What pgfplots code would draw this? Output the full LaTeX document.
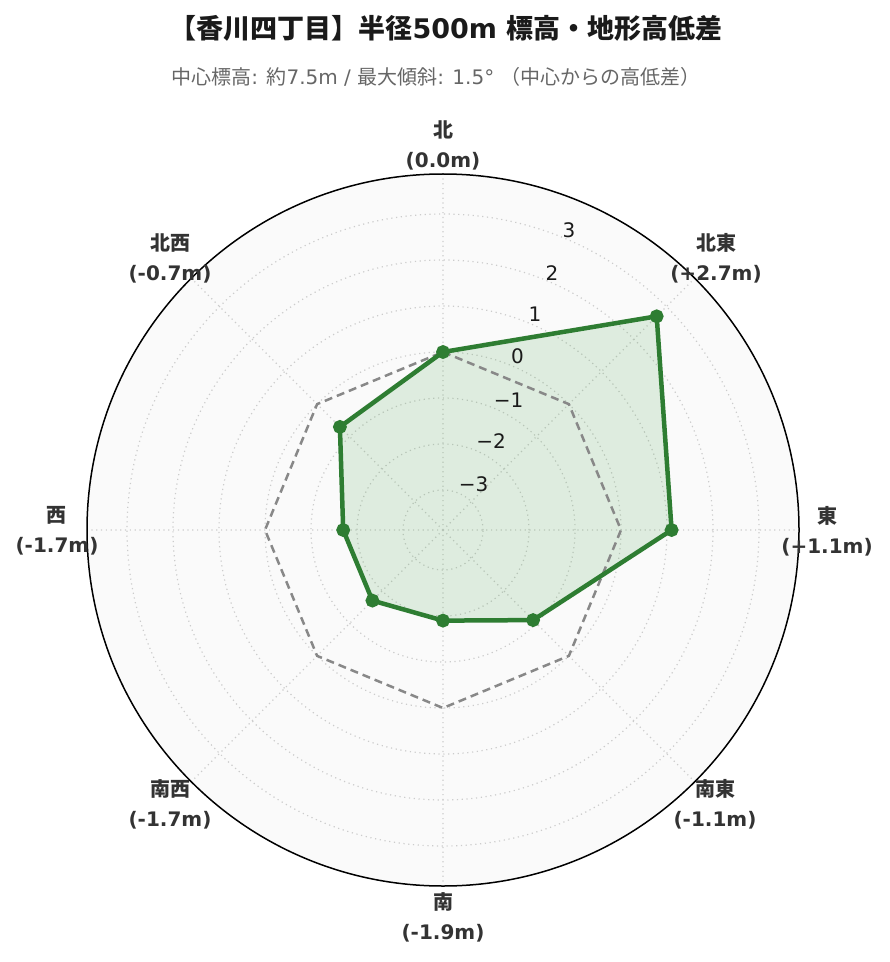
\documentclass[border=0pt]{standalone}
\usepackage{fontspec}
\setmainfont{DejaVu Sans}
\newfontfamily\jp{Noto Sans CJK JP}
\usepackage{pgfplots}
\pgfplotsset{compat=1.18}
\usepgfplotslibrary{polar}

\definecolor{linegreen}{HTML}{2E7D32}
\definecolor{fillgreen}{HTML}{43A047}
\definecolor{refgray}{HTML}{888888}
\definecolor{gridgray}{HTML}{CCCCCC}
\definecolor{panel}{HTML}{FAFAFA}
\definecolor{labelgray}{HTML}{333333}
\definecolor{subgray}{HTML}{666666}

% radius on the axis = height difference + 3.87 (outer ring at +3.87 m)
\begin{document}
\begin{tikzpicture}
\begin{scope}[x=0.5pt,y=-0.5pt]
  \path[use as bounding box] (0,0) rectangle (889,962);
  \fill[panel] (443,530) circle (178pt);
\end{scope}

\begin{polaraxis}[
    at={(221.5pt,-265pt)}, anchor=center,
    scale only axis, width=356pt, height=356pt,
    xmin=0, xmax=360, ymin=0, ymax=7.74,
    xtick={0,45,...,315},
    ytick={0.87,1.87,2.87,3.87,4.87,5.87,6.87},
    xticklabels={}, yticklabels={},
    ticklabel style={opacity=0},
    major tick length=0pt,
    grid=major,
    major grid style={gridgray, line width=0.6pt, dash pattern=on 0.6pt off 1.8pt},
    axis line style={draw=none},
]
% filled area
\addplot[draw=none, fill=fillgreen, fill opacity=0.15]
  coordinates {(90,3.87) (45,6.57) (0,4.97) (-45,2.77) (-90,1.97) (-135,2.17) (180,2.17) (135,3.17)} -- cycle;
% zero reference
\addplot[refgray, line width=1.25pt, dash pattern=on 4pt off 2.5pt]
  coordinates {(90,3.87) (45,3.87) (0,3.87) (-45,3.87) (-90,3.87) (-135,3.87) (180,3.87) (135,3.87)} -- cycle;
% height differences
\addplot[linegreen, line width=2.25pt, mark=*, mark size=2.3pt,
         mark options={fill=linegreen, draw=linegreen, solid}]
  coordinates {(90,3.87) (45,6.57) (0,4.97) (-45,2.77) (-90,1.97) (-135,2.17) (180,2.17) (135,3.17)} -- cycle;
\end{polaraxis}

\begin{scope}[x=0.5pt,y=-0.5pt]
  \draw[black, line width=0.75pt] (443,530) circle (178pt);
  % title
  \node[font=\fontsize{13.5}{16}\selectfont\bfseries, text={rgb,255:red,26;green,26;blue,26}]
    at (446,28) {{\jp 【香川四丁目】半径}500m {\jp 標高・地形高低差}};
  \node[font=\fontsize{10}{12}\selectfont, text=subgray]
    at (436,77) {{\jp 中心標高}: {\jp 約}7.5m / {\jp 最大傾斜}: 1.5° {\jp （中心からの高低差）}};
  % radial ticks
  \begin{scope}[every node/.style={font=\fontsize{10}{12}\selectfont, text={rgb,255:red,26;green,26;blue,26}, inner sep=0pt}]
    \node at (569,230.5) {3};
    \node at (552,273) {2};
    \node at (535,314.5) {1};
    \node at (517.5,356.5) {0};
    \node at (508.5,400) {−1};
    \node at (491,441) {−2};
    \node at (473.5,484.5) {−3};
  \end{scope}
  % direction labels
  \begin{scope}[every node/.style={font=\fontsize{10}{15}\selectfont\bfseries, text=labelgray, align=center, inner sep=0pt}]
    \node at (443,145) {{\jp 北}\\(0.0m)};
    \node at (716,258) {{\jp 北東}\\(+2.7m)};
    \node at (827,531) {{\jp 東}\\(+1.1m)};
    \node at (715,804) {{\jp 南東}\\(-1.1m)};
    \node at (443,917) {{\jp 南}\\(-1.9m)};
    \node at (170,804) {{\jp 南西}\\(-1.7m)};
    \node at (57,531) {{\jp 西}\\(-1.7m)};
    \node at (170,258) {{\jp 北西}\\(-0.7m)};
  \end{scope}
\end{scope}
\end{tikzpicture}
\end{document}
